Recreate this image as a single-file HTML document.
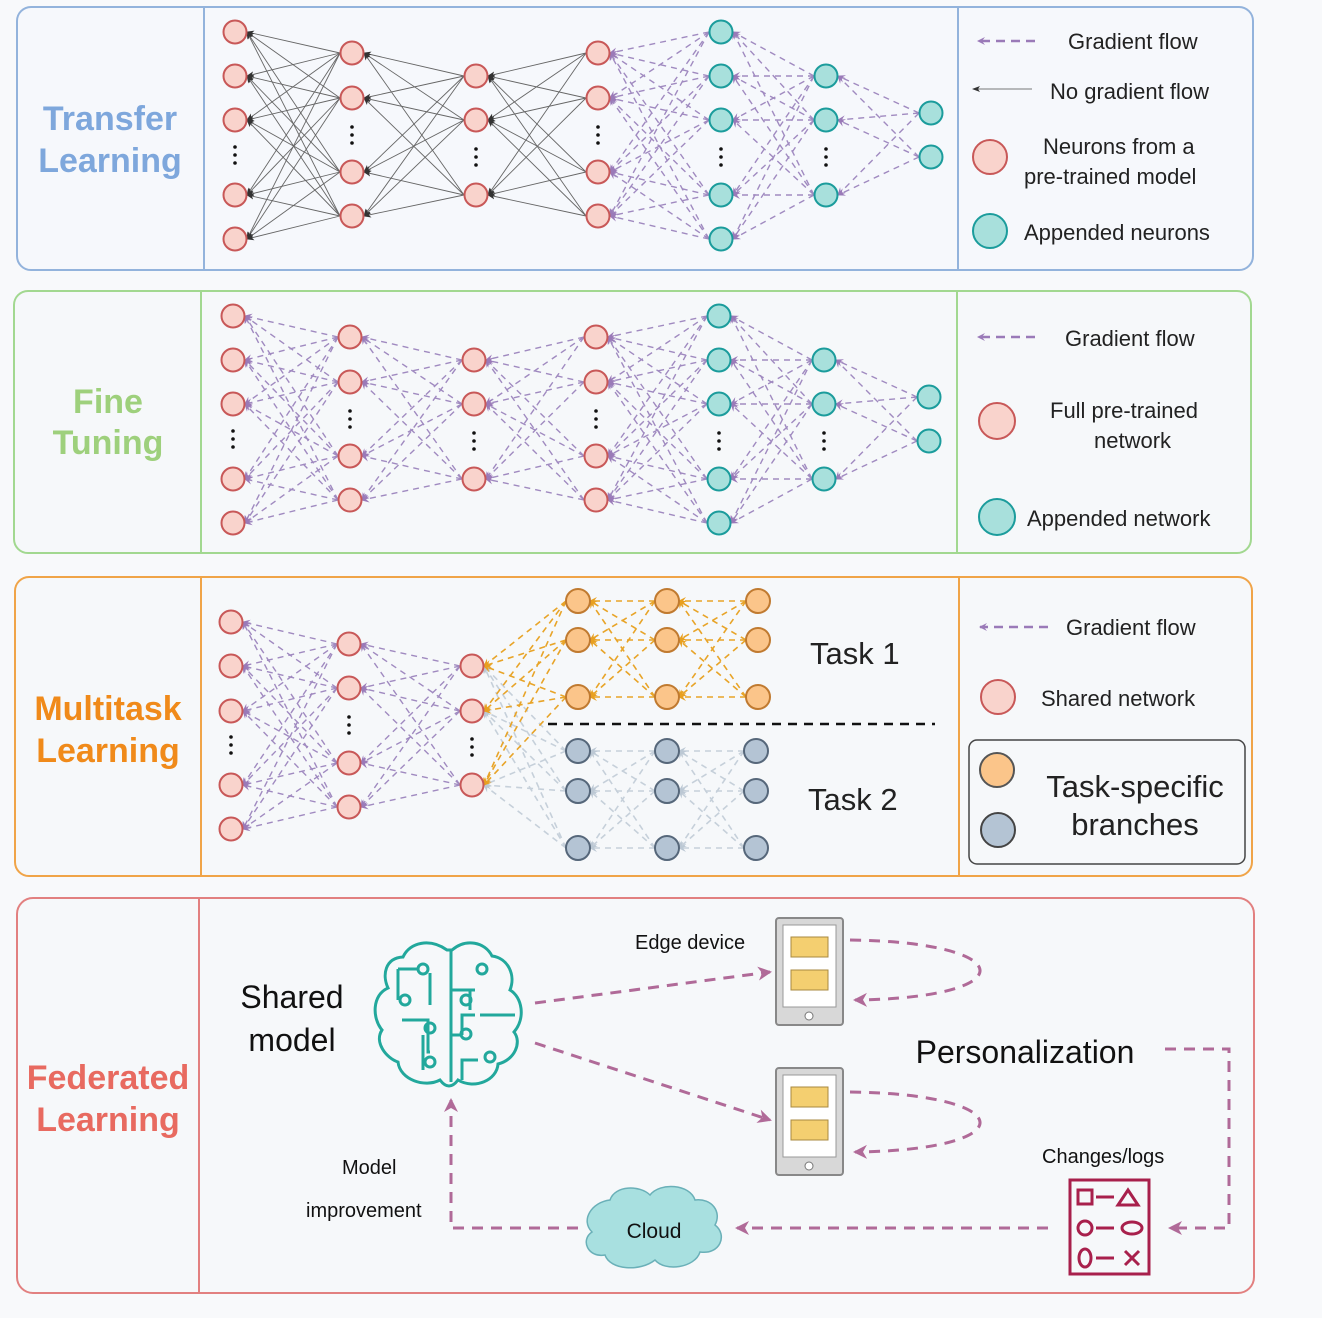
<!DOCTYPE html>
<html><head><meta charset="utf-8"><style>
html,body{margin:0;padding:0;background:#f8f9fb;}
svg{display:block;}
text{font-family:"Comic Sans MS","Liberation Sans",sans-serif;}
</style></head><body>
<svg id="s" width="1322" height="1318" viewBox="0 0 1322 1318" xmlns="http://www.w3.org/2000/svg">
<defs>
<marker id="ap" markerWidth="10" markerHeight="10" refX="8" refY="5" orient="auto" markerUnits="userSpaceOnUse"><path d="M9,5 L1,1 L4,5 L1,9 Z" fill="#9a7ab8"/></marker>
<marker id="ag" markerWidth="8" markerHeight="8" refX="7" refY="4" orient="auto" markerUnits="userSpaceOnUse"><path d="M8,4 L0,1 L2,4 L0,7 Z" fill="#333"/></marker>
<marker id="ao" markerWidth="10" markerHeight="10" refX="8" refY="5" orient="auto" markerUnits="userSpaceOnUse"><path d="M9,5 L1,1 L4,5 L1,9 Z" fill="#e8a020"/></marker>
<marker id="ay" markerWidth="10" markerHeight="10" refX="8" refY="5" orient="auto" markerUnits="userSpaceOnUse"><path d="M9,5 L1,1 L4,5 L1,9 Z" fill="#bcc8d4"/></marker>
<marker id="am" markerWidth="16" markerHeight="16" refX="13" refY="8" orient="auto" markerUnits="userSpaceOnUse"><path d="M15,8 L1,1 L5,8 L1,15 Z" fill="#b06a98"/></marker>
</defs>
<rect x="17" y="7" width="1236" height="263" rx="14" fill="#f6f8fc" stroke="#93b3dc" stroke-width="2"/>
<line x1="204" y1="7" x2="204" y2="270" stroke="#93b3dc" stroke-width="2"/>
<line x1="958" y1="7" x2="958" y2="270" stroke="#93b3dc" stroke-width="2"/>
<rect x="14" y="291" width="1237" height="262" rx="14" fill="#f6f8fa" stroke="#a2d890" stroke-width="2"/>
<line x1="201" y1="291" x2="201" y2="553" stroke="#a2d890" stroke-width="2"/>
<line x1="957" y1="291" x2="957" y2="553" stroke="#a2d890" stroke-width="2"/>
<rect x="15" y="577" width="1237" height="299" rx="14" fill="#f6f8fa" stroke="#f0a448" stroke-width="2"/>
<line x1="201" y1="577" x2="201" y2="876" stroke="#f0a448" stroke-width="2"/>
<line x1="959" y1="577" x2="959" y2="876" stroke="#f0a448" stroke-width="2"/>
<rect x="17" y="898" width="1237" height="395" rx="16" fill="#f6f8fa" stroke="#e28080" stroke-width="2"/>
<line x1="199" y1="898" x2="199" y2="1293" stroke="#e28080" stroke-width="2"/>
<g font-weight="bold" font-size="34" text-anchor="middle">
<text x="110" y="130" fill="#7ea7dc">Transfer</text><text x="110" y="172" fill="#7ea7dc">Learning</text>
<text x="108" y="413" fill="#9ed07c">Fine</text><text x="108" y="454" fill="#9ed07c">Tuning</text>
<text x="108" y="720" fill="#f08a1a">Multitask</text><text x="108" y="762" fill="#f08a1a">Learning</text>
<text x="108" y="1089" fill="#e86a60">Federated</text><text x="108" y="1131" fill="#e86a60">Learning</text>
</g>
<g id="edges"></g>
<g id="nodes"></g>
<g font-size="22" fill="#222">
<line x1="1035" y1="41" x2="978" y2="41" stroke="#9a7ab8" stroke-width="2.5" stroke-dasharray="9,6" marker-end="url(#ap)"/>
<text x="1068" y="49">Gradient flow</text>
<line x1="1032" y1="89" x2="973" y2="89" stroke="#777" stroke-width="1" marker-end="url(#ag)"/>
<text x="1050" y="99">No gradient flow</text>
<circle cx="990" cy="157" r="17" fill="#f9d3cc" stroke="#c85858" stroke-width="2"/>
<text x="1043" y="154">Neurons from a</text><text x="1024" y="184">pre-trained model</text>
<circle cx="990" cy="231" r="17" fill="#a8e0dc" stroke="#1b9c9c" stroke-width="2"/>
<text x="1024" y="240">Appended neurons</text>
<line x1="1035" y1="337" x2="978" y2="337" stroke="#9a7ab8" stroke-width="2.5" stroke-dasharray="9,6" marker-end="url(#ap)"/>
<text x="1065" y="346">Gradient flow</text>
<circle cx="997" cy="421" r="18" fill="#f9d3cc" stroke="#c85858" stroke-width="2"/>
<text x="1050" y="418">Full pre-trained</text><text x="1094" y="448">network</text>
<circle cx="997" cy="517" r="18" fill="#a8e0dc" stroke="#1b9c9c" stroke-width="2"/>
<text x="1027" y="526">Appended network</text>
<line x1="1048" y1="627" x2="980" y2="627" stroke="#9a7ab8" stroke-width="2.5" stroke-dasharray="9,6" marker-end="url(#ap)"/>
<text x="1066" y="635">Gradient flow</text>
<circle cx="998" cy="697" r="17" fill="#f9d3cc" stroke="#c85858" stroke-width="2"/>
<text x="1041" y="706">Shared network</text>
<rect x="969" y="740" width="276" height="124" rx="8" fill="#f6f8fa" stroke="#444" stroke-width="1.5"/>
<circle cx="997" cy="770" r="17" fill="#fbc58a" stroke="#555" stroke-width="2"/>
<circle cx="998" cy="830" r="17" fill="#b4c4d4" stroke="#444" stroke-width="2"/>
<text x="1135" y="797" font-size="31" text-anchor="middle">Task-specific</text>
<text x="1135" y="835" font-size="31" text-anchor="middle">branches</text>
<text x="810" y="664" font-size="31">Task 1</text>
<text x="808" y="810" font-size="31">Task 2</text>
</g>
<line x1="548" y1="724" x2="935" y2="724" stroke="#111" stroke-width="2.5" stroke-dasharray="9,7"/>
<g font-size="32" fill="#111" text-anchor="middle">
<text x="292" y="1008">Shared</text><text x="292" y="1051">model</text>
<text x="1025" y="1063">Personalization</text>
</g>
<g font-size="20" fill="#111">
<text x="635" y="949">Edge device</text>
<text x="342" y="1174">Model</text><text x="306" y="1217">improvement</text>
<text x="1042" y="1163">Changes/logs</text>
</g>
<g fill="none" stroke="#22a89c" stroke-width="3">
<path d="M447,950 C430,938 410,942 403,957 C385,958 382,975 388,988 C372,995 372,1018 382,1030 C374,1042 386,1058 398,1062 C400,1080 425,1088 440,1080 C446,1088 452,1088 458,1080 C475,1090 497,1080 498,1064 C515,1060 522,1042 514,1032 C526,1018 522,997 510,990 C516,975 508,958 492,956 C485,942 466,938 452,950 Z"/>
<line x1="451" y1="950" x2="451" y2="1082"/>
<path d="M398,969 H418 M398,969 V1000 M430,973 V1005 M402,1020 H428 V1052 H430 M423,1035 V1070 M451,990 H475 M470,990 V1005 M470,1005 V1010 M451,1035 H462 M462,1035 V1015 H475 M451,1048 V1080 M462,1080 V1060 H478 M480,1015 H515"/>
<circle cx="423" cy="969" r="5"/><circle cx="405" cy="1000" r="5"/><circle cx="430" cy="1028" r="5"/><circle cx="430" cy="1062" r="5"/>
<circle cx="482" cy="969" r="5"/><circle cx="466" cy="1000" r="5"/><circle cx="466" cy="1034" r="5"/><circle cx="490" cy="1057" r="5"/>
</g>
<g>
<rect x="776" y="918" width="67" height="107" rx="3" fill="#d8d8d8" stroke="#888" stroke-width="2"/>
<rect x="783" y="925" width="53" height="82" fill="#fff" stroke="#999"/>
<rect x="791" y="937" width="37" height="20" fill="#f4cf70" stroke="#a88a40"/>
<rect x="791" y="970" width="37" height="20" fill="#f4cf70" stroke="#a88a40"/>
<circle cx="809" cy="1016" r="4" fill="#fff" stroke="#777"/>
<rect x="776" y="1068" width="67" height="107" rx="3" fill="#d8d8d8" stroke="#888" stroke-width="2"/>
<rect x="783" y="1075" width="53" height="82" fill="#fff" stroke="#999"/>
<rect x="791" y="1087" width="37" height="20" fill="#f4cf70" stroke="#a88a40"/>
<rect x="791" y="1120" width="37" height="20" fill="#f4cf70" stroke="#a88a40"/>
<circle cx="809" cy="1166" r="4" fill="#fff" stroke="#777"/>
</g>
<path d="M610,1200 C615,1185 640,1185 650,1195 C660,1182 690,1184 695,1200 C712,1198 722,1212 715,1225 C728,1235 720,1255 700,1252 C695,1268 665,1272 655,1260 C640,1272 610,1270 605,1255 C588,1258 580,1240 592,1232 C580,1220 592,1202 610,1200 Z" fill="#a8e0e0" stroke="#6ab0b8" stroke-width="1.5"/>
<text x="654" y="1238" font-size="21" text-anchor="middle" fill="#111">Cloud</text>
<rect x="1070" y="1180" width="79" height="94" fill="none" stroke="#a8204c" stroke-width="3"/>
<g fill="none" stroke="#a8204c" stroke-width="3">
<rect x="1078" y="1190" width="14" height="14"/><path d="M1128,1190 L1138,1205 L1118,1205 Z"/>
<circle cx="1085" cy="1228" r="7"/><ellipse cx="1132" cy="1228" rx="10" ry="6"/>
<ellipse cx="1085" cy="1258" rx="6" ry="9"/><path d="M1125,1251 L1139,1265 M1139,1251 L1125,1265"/>
<path d="M1096,1197 H1114 M1096,1228 H1114 M1096,1258 H1114"/>
</g>
<g fill="none" stroke="#b06a98" stroke-width="3" stroke-dasharray="11,8">
<line x1="535" y1="1003" x2="770" y2="972" marker-end="url(#am)"/>
<line x1="535" y1="1043" x2="770" y2="1120" marker-end="url(#am)"/>
<path d="M850,940 C1020,942 1025,998 855,1000" marker-end="url(#am)"/>
<path d="M850,1092 C1020,1094 1025,1150 855,1152" marker-end="url(#am)"/>
<path d="M1165,1049 H1229 V1228 H1170" marker-end="url(#am)"/>
<line x1="1048" y1="1228" x2="737" y2="1228" marker-end="url(#am)"/>
<path d="M578,1228 H451 V1100" marker-end="url(#am)"/>
</g>
</svg>
<script>
var NS="http://www.w3.org/2000/svg",E=document.getElementById('edges'),N=document.getElementById('nodes');
function el(p,t,a){var e=document.createElementNS(NS,t);for(var k in a)e.setAttribute(k,a[k]);p.appendChild(e);return e;}
var PK={f:"#f9d3cc",s:"#c85858"},TL={f:"#a8e0dc",s:"#1b9c9c"},OR={f:"#fbc58a",s:"#c07a30"},GR={f:"#b4c4d4",s:"#56677a"};
function net(cols,dy,types){
  for(var i=0;i<cols.length-1;i++){
    var a=cols[i],b=cols[i+1],t=types[i];
    a[1].forEach(function(ya){b[1].forEach(function(yb){
      var x1=b[0]-12,y1=yb+dy,x2=a[0]+12,y2=ya+dy;
      if(t=='g')el(E,'line',{x1:x1,y1:y1,x2:x2,y2:y2,stroke:'#666','stroke-width':0.9,'marker-end':'url(#ag)'});
      else el(E,'line',{x1:x1,y1:y1,x2:x2,y2:y2,stroke:'#a08ac0','stroke-width':1.4,'stroke-dasharray':'6,5','marker-end':'url(#ap)'});
    });});
  }
  cols.forEach(function(c){
    c[1].forEach(function(y){el(N,'circle',{cx:c[0],cy:y+dy,r:11.5,fill:c[3].f,stroke:c[3].s,'stroke-width':2});});
    if(c[2])for(var k=-1;k<=1;k++)el(N,'circle',{cx:c[0],cy:c[2]+dy+k*8,r:1.8,fill:'#111'});
  });
}
var L=[[235,[32,76,120,195,239],155,PK],[352,[53,98,172,216],135,PK],[476,[76,120,195],157,PK],[598,[53,98,172,216],135,PK],[721,[32,76,120,195,239],157,TL],[826,[76,120,195],157,TL],[931,[113,157],0,TL]];
net(L,0,['g','g','g','p','p','p']);
var L2=L.map(function(c){return [c[0]-2,c[1],c[2],c[3]];});
net(L2,284,['p','p','p','p','p','p']);
var M=[[231,[622,666,711,785,829],745,PK],[349,[644,688,763,807],725,PK],[472,[666,711,785],747,PK]];
net(M,0,['p','p']);
function br(xs,ys,st,mk,s){
  var pts=[[472,[666,711,785]]].concat(xs.map(function(x){return [x,ys];}));
  for(var i=0;i<pts.length-1;i++){pts[i][1].forEach(function(ya){pts[i+1][1].forEach(function(yb){
    el(E,'line',{x1:pts[i+1][0]-12,y1:yb,x2:pts[i][0]+12,y2:ya,stroke:st,'stroke-width':1.6,'stroke-dasharray':'6,5','marker-end':mk});});});}
  xs.forEach(function(x){ys.forEach(function(y){el(N,'circle',{cx:x,cy:y,r:12,fill:s.f,stroke:s.s,'stroke-width':2});});});
}
br([578,667,756],[751,791,848],'#c6d0da','url(#ay)',GR);
br([578,667,758],[601,640,697],'#e8a428','url(#ao)',OR);
</script>
</body></html>
